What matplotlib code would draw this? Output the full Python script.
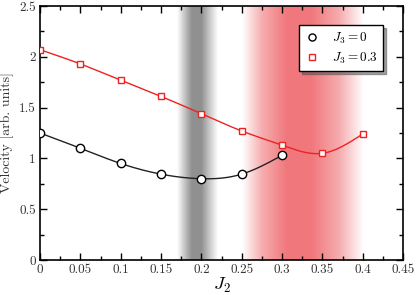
import numpy as np
import matplotlib
matplotlib.use('Agg')
import matplotlib.pyplot as plt
from matplotlib.ticker import MultipleLocator, FormatStrFormatter

plt.rcParams['font.family'] = 'serif'
plt.rcParams['font.serif'] = ['cmr10', 'DejaVu Serif']
plt.rcParams['mathtext.fontset'] = 'cm'
plt.rcParams['axes.formatter.use_mathtext'] = True

# data
j2_a = [0.0, 0.05, 0.1, 0.15, 0.2, 0.25, 0.3]
vel_a = [1.25, 1.10, 0.95, 0.845, 0.80, 0.845, 1.03]
j2_b = [0.0, 0.05, 0.1, 0.15, 0.2, 0.25, 0.3, 0.35, 0.4]
vel_b = [2.07, 1.93, 1.77, 1.61, 1.44, 1.27, 1.13, 1.05, 1.24]


def spline(x, y, n=200):
    # natural cubic spline, only for drawing the smooth line
    x = np.asarray(x, float)
    y = np.asarray(y, float)
    m = len(x)
    h = np.diff(x)
    A = np.zeros((m, m))
    r = np.zeros(m)
    A[0, 0] = A[-1, -1] = 1
    for i in range(1, m - 1):
        A[i, i-1] = h[i-1]
        A[i, i] = 2 * (h[i-1] + h[i])
        A[i, i+1] = h[i]
        r[i] = 6 * ((y[i+1] - y[i]) / h[i] - (y[i] - y[i-1]) / h[i-1])
    M = np.linalg.solve(A, r)
    xs = np.linspace(x[0], x[-1], n)
    k = np.clip(np.searchsorted(x, xs) - 1, 0, m - 2)
    t1 = x[k+1] - xs
    t2 = xs - x[k]
    hk = h[k]
    ys = (M[k] * t1**3 + M[k+1] * t2**3) / (6 * hk) \
        + (y[k] / hk - M[k] * hk / 6) * t1 + (y[k+1] / hk - M[k+1] * hk / 6) * t2
    return xs, ys


fig = plt.figure(figsize=(4.16, 2.95), dpi=100)
ax = fig.add_axes([40/416, 1 - 260/295, 363/416, 254/295])

# shaded bands
def band(x0, x1, prof_x, prof_a, rgb):
    xx = np.linspace(x0, x1, 300)
    a = np.interp(xx, prof_x, prof_a)
    img = np.zeros((1, len(xx), 4))
    img[0, :, :3] = rgb
    img[0, :, 3] = a
    ax.imshow(img, extent=[x0, x1, 0, 2.5], aspect='auto', zorder=0,
              interpolation='bilinear')

band(0.170, 0.22, [0.170, 0.18, 0.188, 0.200, 0.210, 0.22],
     [0.0, 0.35, 0.62, 0.62, 0.3, 0.0], (0.3, 0.3, 0.3))
band(0.25, 0.40, [0.25, 0.275, 0.305, 0.335, 0.37, 0.40],
     [0.0, 0.5, 0.82, 0.82, 0.5, 0.0], (0.93, 0.35, 0.37))

xs, ys = spline(j2_a, vel_a)
ax.plot(xs, ys, color='#222222', lw=1.0, zorder=2)
ax.plot(j2_a, vel_a, 'o', ms=6, mfc='white', mec='black', mew=1.0,
        zorder=3, label=r'$J_3 = 0$')
xs, ys = spline(j2_b, vel_b)
ax.plot(xs, ys, color='#ee2222', lw=1.0, zorder=2)
ax.plot(j2_b, vel_b, 's', ms=5, mfc='white', mec='#ee2222', mew=1.0,
        zorder=3, label=r'$J_3 = 0.3$')

ax.set_xlim(0, 0.45)
ax.set_ylim(0, 2.5)
ax.xaxis.set_major_locator(MultipleLocator(0.05))
ax.xaxis.set_minor_locator(MultipleLocator(0.025))
ax.yaxis.set_major_locator(MultipleLocator(0.5))
ax.yaxis.set_minor_locator(MultipleLocator(0.25))
ax.xaxis.set_major_formatter(FormatStrFormatter('%g'))
ax.yaxis.set_major_formatter(FormatStrFormatter('%g'))
ax.tick_params(which='both', direction='in', top=True, right=True,
               labelsize=9.5, width=1.0, labelcolor='#333333', pad=3)
ax.tick_params(which='major', length=5)
ax.tick_params(which='minor', length=3)
for s in ax.spines.values():
    s.set_linewidth(1.2)

ax.set_xlabel(r'$J_2$', fontsize=13, labelpad=0)
ax.set_ylabel('Velocity [arb. units]', fontsize=10, labelpad=4, color='#333333')

leg = ax.legend(loc='upper right', bbox_to_anchor=(0.945, 0.925), fontsize=9.5,
                frameon=True, fancybox=False, shadow=True, edgecolor='black',
                handletextpad=0.9, borderpad=0.4, labelspacing=0.4,
                handlelength=1.2, markerscale=0.85, borderaxespad=0)
leg.get_frame().set_linewidth(1.0)

fig.savefig('out.png', dpi=100)
